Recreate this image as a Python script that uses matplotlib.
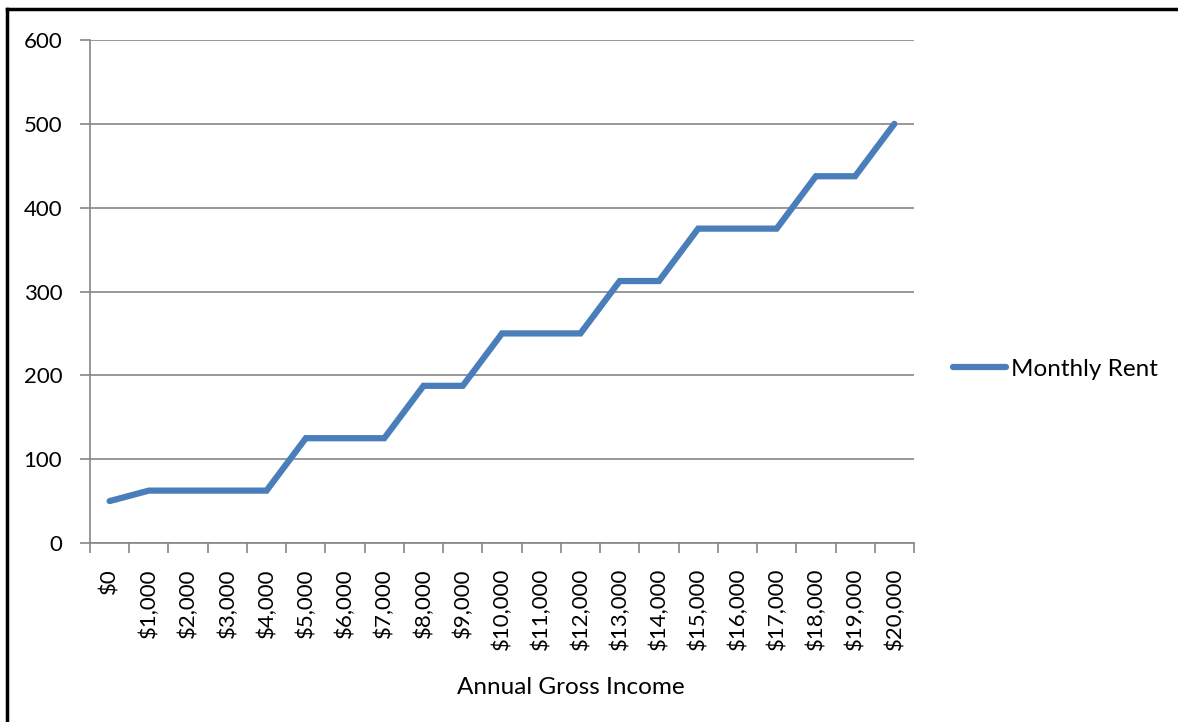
import matplotlib
matplotlib.use('Agg')
import matplotlib.pyplot as plt
from matplotlib.lines import Line2D

plt.rcParams['font.family'] = ['Lato', 'DejaVu Sans']

# 数据
income_labels = ['$0', '$1,000', '$2,000', '$3,000', '$4,000', '$5,000', '$6,000',
                 '$7,000', '$8,000', '$9,000', '$10,000', '$11,000', '$12,000',
                 '$13,000', '$14,000', '$15,000', '$16,000', '$17,000', '$18,000',
                 '$19,000', '$20,000']
monthly_rent = [50, 62.5, 62.5, 62.5, 62.5, 125, 125, 125, 187.5, 187.5, 250, 250,
                250, 312.5, 312.5, 375, 375, 375, 437.5, 437.5, 500]

W, H = 1178, 722
fig = plt.figure(figsize=(W / 100, H / 100), dpi=100)
ax = fig.add_axes([90 / W, 1 - 543 / H, (914 - 90) / W, (543 - 40) / H])

grid_c = '#868686'
x = list(range(len(income_labels)))
ax.plot(x, monthly_rent, color='#4a7ebb', lw=4.5, solid_capstyle='round',
        solid_joinstyle='miter')

ax.set_xlim(-0.5, len(income_labels) - 0.5)
ax.set_ylim(0, 600)
ax.set_yticks(range(0, 601, 100))
ax.yaxis.grid(True, color=grid_c, lw=1.2)
ax.set_axisbelow(True)

ax.set_xticks(x)
ax.set_xticklabels(income_labels, rotation=90, fontsize=16)
ax.set_xticks([i - 0.5 for i in range(len(income_labels) + 1)], minor=True)
ax.tick_params(axis='x', which='major', length=0, pad=18)
ax.tick_params(axis='x', which='minor', length=7, width=1.2, color=grid_c, direction='out')
ax.tick_params(axis='y', length=7, width=1.2, color=grid_c, labelsize=16, pad=13)

for s in ['top', 'right']:
    ax.spines[s].set_visible(False)
for s in ['left', 'bottom']:
    ax.spines[s].set_color(grid_c)
    ax.spines[s].set_linewidth(1.2)

# 横轴标题
fig.text(571 / W, 1 - 688 / H, 'Annual Gross Income', fontsize=17.5,
         ha='center', va='center')

handle = Line2D([], [], color='#4a7ebb', lw=4.5, solid_capstyle='round')
fig.legend([handle], ['Monthly Rent'], loc='center left',
           bbox_to_anchor=(953 / W, 1 - 369 / H), frameon=False, fontsize=17.5,
           handlelength=2.2, handletextpad=0.2, borderaxespad=0, borderpad=0)

# 外框
fig.add_artist(Line2D([7 / W, 7 / W], [0, 1 - 9 / H], color='black', lw=2.5,
                      transform=fig.transFigure))
fig.add_artist(Line2D([7 / W, 1], [1 - 9 / H, 1 - 9 / H], color='black', lw=2.5,
                      transform=fig.transFigure))

fig.savefig('out.png', dpi=100)
